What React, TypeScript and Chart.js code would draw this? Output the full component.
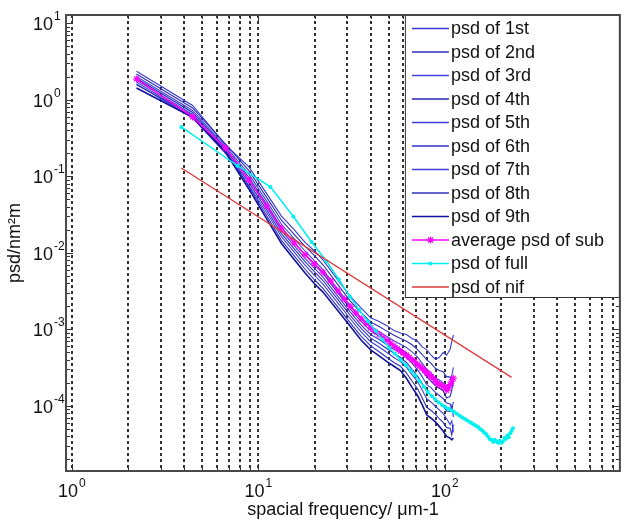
import React, { useEffect, useRef } from "react";
import { Chart, registerables } from "chart.js";

Chart.register(...registerables);

// ---------- data ----------
const subFreq = [2.22, 4.44, 6.67, 8.89, 11.1, 13.3, 15.6, 17.8, 20.0, 22.2, 26.7, 31.1, 35.6, 40.0, 44.4, 48.9, 53.3, 57.8, 62.2, 66.7, 71.1, 75.6, 80.0, 84.4, 88.9, 93.3, 97.8, 102.2, 106.7, 108.9, 111.1];

const psd1 = [2.37, 0.848, 0.259, 0.133, 0.0592, 0.0303, 0.02, 0.0137, 0.0106, 0.0081, 0.00442, 0.0027, 0.0019, 0.00142, 0.00127, 0.00112, 0.00097, 0.0009, 0.00086, 0.00076, 0.00071, 0.00059, 0.00054, 0.00046, 0.00041, 0.00043, 0.0005, 0.00046, 0.00055, 0.0007, 0.00085];
const psd2 = [2.19, 0.785, 0.265, 0.119, 0.0528, 0.0268, 0.0174, 0.0122, 0.0092, 0.007, 0.00385, 0.00235, 0.00165, 0.00125, 0.00109, 0.00095, 0.00084, 0.00076, 0.0007, 0.00063, 0.00055, 0.00047, 0.0004, 0.00036, 0.00031, 0.00029, 0.00028, 0.00024, 0.00024, 0.0002, 0.00018];
const psd3 = [2.03, 0.728, 0.247, 0.107, 0.0472, 0.0237, 0.0153, 0.0106, 0.0079, 0.00605, 0.00335, 0.00206, 0.00143, 0.00108, 0.00093, 0.00081, 0.00071, 0.00064, 0.00058, 0.00051, 0.00044, 0.00036, 0.0003, 0.00027, 0.00023, 0.00022, 0.0002, 0.00018, 0.0002, 0.00025, 0.00032];
const psd4 = [1.92, 0.686, 0.234, 0.0977, 0.043, 0.0214, 0.0137, 0.00945, 0.007, 0.0054, 0.003, 0.00185, 0.00127, 0.00096, 0.00082, 0.00071, 0.00062, 0.00056, 0.00049, 0.00042, 0.00036, 0.00029, 0.00024, 0.00021, 0.000185, 0.00017, 0.000158, 0.000127, 0.000133, 0.00016, 0.00025];
const psd5 = [1.81, 0.647, 0.222, 0.09, 0.0396, 0.0196, 0.0124, 0.00852, 0.0063, 0.00484, 0.00271, 0.00168, 0.00114, 0.00086, 0.00074, 0.00063, 0.00055, 0.00049, 0.00043, 0.00036, 0.0003, 0.00024, 0.00019, 0.000172, 0.00015, 0.000137, 0.000125, 0.000109, 0.000106, 0.00009, 0.000113];
const psd6 = [1.71, 0.613, 0.211, 0.083, 0.0365, 0.0179, 0.0112, 0.00769, 0.00565, 0.00436, 0.00245, 0.00152, 0.00103, 0.00077, 0.00066, 0.00056, 0.00049, 0.00043, 0.00037, 0.0003, 0.00025, 0.000196, 0.000154, 0.000139, 0.000122, 0.00011, 0.0001, 0.000086, 0.000084, 0.0001, 0.000072];
const psd7 = [1.62, 0.58, 0.201, 0.0766, 0.0335, 0.0163, 0.0102, 0.00693, 0.00508, 0.00392, 0.00221, 0.00138, 0.00092, 0.00069, 0.00059, 0.0005, 0.00043, 0.00038, 0.00032, 0.000255, 0.00021, 0.000161, 0.000124, 0.000112, 0.000099, 0.000089, 0.00008, 0.000068, 0.000057, 0.000064, 0.000045];
const psd8 = [1.58, 0.625, 0.215, 0.0738, 0.0304, 0.0146, 0.00906, 0.00612, 0.00446, 0.00345, 0.00196, 0.00122, 0.00081, 0.00061, 0.00051, 0.00043, 0.00037, 0.00033, 0.00027, 0.00021, 0.00017, 0.000127, 0.000096, 0.000087, 0.000078, 0.000068, 0.000061, 0.000052, 0.000051, 0.000042, 0.000057];
const psd9 = [1.43, 0.595, 0.206, 0.0686, 0.0277, 0.0133, 0.00814, 0.00546, 0.00396, 0.00308, 0.00176, 0.0011, 0.00072, 0.00054, 0.00045, 0.00038, 0.00033, 0.00029, 0.00023, 0.000175, 0.000139, 0.000103, 0.000076, 0.000069, 0.000062, 0.000054, 0.000047, 0.00004, 0.000038, 0.000036, 0.000038];

const avgFreq = [2.22, 4.44, 6.67, 8.89, 11.1, 13.3, 15.6, 17.8, 20.0, 22.2, 24.4, 26.7, 28.9, 31.1, 33.3, 35.6, 37.8, 40.0, 42.2, 44.4, 46.7, 48.9, 51.1, 53.3, 55.6, 57.8, 60.0, 62.2, 64.4, 66.7, 68.9, 71.1, 73.3, 75.6, 77.8, 80.0, 82.2, 84.4, 86.7, 88.9, 91.1, 93.3, 95.6, 97.8, 100.0, 102.2, 104.4, 106.7, 108.9, 111.1];
const avgPsd = [1.88, 0.6, 0.236, 0.09, 0.041, 0.021, 0.0135, 0.0095, 0.0072, 0.0056, 0.0043, 0.0032, 0.0025, 0.002, 0.00165, 0.00138, 0.0012, 0.00105, 0.00094, 0.00086, 0.00078, 0.00072, 0.00066, 0.00061, 0.00056, 0.00052, 0.00049, 0.00046, 0.00043, 0.0004, 0.00038, 0.00035, 0.00033, 0.00031, 0.00029, 0.00027, 0.00026, 0.00024, 0.00023, 0.00021, 0.0002, 0.00019, 0.000185, 0.00018, 0.000175, 0.00016, 0.00017, 0.00019, 0.00021, 0.00023];

const fullFreq = [3.86, 7.72, 11.6, 15.4, 19.3, 23.2, 27.0, 30.9, 34.7, 38.6, 42.5, 46.3, 50.2, 54.0, 57.9, 61.8, 65.6, 69.5, 73.3, 77.2, 81.1, 84.9, 88.8, 92.6, 96.5, 100.4, 104.2, 108.1, 111.9, 115.8, 119.7, 123.5, 127.4, 131.2, 135.1, 139.0, 142.8, 146.7, 150.5, 154.4, 158.3, 162.1, 166.0, 169.8, 173.7, 177.6, 181.4, 185.3, 189.1, 193.0, 196.9, 200.7, 204.6, 208.4, 212.3, 216.2, 220.0, 223.9, 227.7, 231.6];
const fullPsd = [0.444, 0.138, 0.073, 0.03, 0.0139, 0.0078, 0.0045, 0.0027, 0.0018, 0.00128, 0.00096, 0.00074, 0.00058, 0.00048, 0.0004, 0.00034, 0.00029, 0.00025, 0.00021, 0.000178, 0.000152, 0.000135, 0.000122, 0.000111, 0.000103, 0.000097, 0.000092, 0.000088, 0.000084, 0.000079, 0.000075, 0.000071, 0.000068, 0.000065, 0.000062, 0.00006, 0.000057, 0.000055, 0.000053, 0.00005, 0.000048, 0.000045, 0.000043, 0.00004, 0.000037, 0.000036, 0.000034, 0.000036, 0.000034, 0.000033, 0.000035, 0.000033, 0.000034, 0.000038, 0.000037, 0.000041, 0.000039, 0.000044, 0.000047, 0.000051];

const nifFreq = [3.86, 228];
const nifPsd = [0.129, 0.000236];

const seriesLabels = ["psd of 1st", "psd of 2nd", "psd of 3rd", "psd of 4th", "psd of 5th", "psd of 6th", "psd of 7th", "psd of 8th", "psd of 9th", "average psd of sub", "psd of full", "psd of nif"];

const xTickExponents = [0, 1, 2];
const yTickExponents = [1, 0, -1, -2, -3, -4];
const xLabel = "spacial frequency/ \u03BCm-1";
const yLabel = "psd/nm\u00B2m";

// ---------- styles ----------
const FONT = '"Liberation Sans", Arial, Helvetica, sans-serif';
const blueColors = ["#3a3ad2", "#2e2ec4", "#4444d8", "#2424b8", "#3c3cd6", "#3232c8", "#4040dc", "#3030c2", "#12129e"];
const X_MIN = 0.93, X_MAX = 868, Y_MIN = 1.41e-5, Y_MAX = 12.9;

function decadeValues(lo: number, hi: number) {
  const out: number[] = [];
  for (let e = Math.floor(Math.log10(lo)); e <= Math.ceil(Math.log10(hi)); e++) {
    for (let m = 1; m <= 9; m++) {
      const v = m * Math.pow(10, e);
      if (v >= lo && v <= hi) out.push(v);
    }
  }
  return out;
}

function drawStar(ctx: CanvasRenderingContext2D, x: number, y: number, r: number) {
  ctx.beginPath();
  ctx.moveTo(x - r, y); ctx.lineTo(x + r, y);
  ctx.moveTo(x, y - r); ctx.lineTo(x, y + r);
  const d = r * 0.707;
  ctx.moveTo(x - d, y - d); ctx.lineTo(x + d, y + d);
  ctx.moveTo(x - d, y + d); ctx.lineTo(x + d, y - d);
  ctx.stroke();
}

const framePlugin = {
  id: "matlabFrame",
  afterDatasetsDraw(chart: any) {
    const { ctx, chartArea: a, scales } = chart;
    const xs = scales.x, ys = scales.y;
    ctx.save();
    ctx.strokeStyle = "#333";
    ctx.lineWidth = 1;
    ctx.setLineDash([]);
    for (const v of decadeValues(Y_MIN, Y_MAX)) {
      const py = Math.round(ys.getPixelForValue(v)) + 0.5;
      const major = Math.abs(Math.log10(v) - Math.round(Math.log10(v))) < 1e-9;
      const len = major ? 7 : 4;
      ctx.beginPath();
      ctx.moveTo(a.left, py); ctx.lineTo(a.left + len, py);
      ctx.moveTo(a.right, py); ctx.lineTo(a.right - len, py);
      ctx.stroke();
    }
    for (const v of decadeValues(X_MIN, X_MAX)) {
      const px = Math.round(xs.getPixelForValue(v)) + 0.5;
      const major = Math.abs(Math.log10(v) - Math.round(Math.log10(v))) < 1e-9;
      const len = major ? 7 : 4;
      ctx.beginPath();
      ctx.moveTo(px, a.bottom); ctx.lineTo(px, a.bottom - len);
      ctx.moveTo(px, a.top); ctx.lineTo(px, a.top + len);
      ctx.stroke();
    }

    // legend
    const lw = 215, lh = 283;
    const lx = a.right - lw, ly = a.top;
    ctx.fillStyle = "#fff";
    ctx.fillRect(lx, ly, lw, lh);
    ctx.strokeStyle = "#333";
    ctx.lineWidth = 1;
    ctx.strokeRect(lx + 0.5, ly + 0.5, lw - 1, lh - 1);
    ctx.font = "18px " + FONT;
    ctx.textBaseline = "middle";
    ctx.textAlign = "left";
    chart.data.datasets.forEach((ds: any, i: number) => {
      const cy = ly + 13.5 + i * 23.5;
      ctx.strokeStyle = ds.borderColor;
      ctx.lineWidth = 1.5;
      ctx.beginPath();
      ctx.moveTo(lx + 7, cy); ctx.lineTo(lx + 44, cy);
      ctx.stroke();
      if (ds.pointStyle === "star") {
        ctx.lineWidth = 1.2;
        drawStar(ctx, lx + 25.5, cy, 3.5);
      } else if (ds.pointRadius > 0) {
        ctx.fillStyle = ds.backgroundColor;
        ctx.beginPath();
        ctx.arc(lx + 25.5, cy, 2, 0, Math.PI * 2);
        ctx.fill();
      }
      ctx.fillStyle = "#111";
      ctx.fillText(ds.label, lx + 46, cy + 1);
    });

    // axes box
    ctx.strokeStyle = "#4a4a4a";
    ctx.lineWidth = 2;
    ctx.strokeRect(a.left, a.top, a.right - a.left, a.bottom - a.top);

    // tick labels
    ctx.fillStyle = "#111";
    ctx.textBaseline = "alphabetic";
    ctx.textAlign = "left";
    for (const e of xTickExponents) {
      const px = xs.getPixelForValue(Math.pow(10, e));
      ctx.font = "18px " + FONT;
      const w10 = ctx.measureText("10").width;
      ctx.font = "12px " + FONT;
      const ex = String(e);
      const we = ctx.measureText(ex).width;
      const start = px - (w10 + we + 1) / 2;
      ctx.font = "18px " + FONT;
      ctx.fillText("10", start, a.bottom + 26);
      ctx.font = "12px " + FONT;
      ctx.fillText(ex, start + w10 + 1, a.bottom + 16);
    }
    for (const e of yTickExponents) {
      const py = ys.getPixelForValue(Math.pow(10, e));
      ctx.font = "18px " + FONT;
      const w10 = ctx.measureText("10").width;
      ctx.fillText("10", 33, py + 7);
      ctx.font = "12px " + FONT;
      ctx.fillText(String(e), 33 + w10 + 1, py - 3);
    }

    // axis titles
    ctx.font = "18px " + FONT;
    ctx.textAlign = "center";
    ctx.fillText(xLabel, (a.left + a.right) / 2, a.bottom + 44);
    ctx.save();
    ctx.translate(20, (a.top + a.bottom) / 2);
    ctx.rotate(-Math.PI / 2);
    ctx.fillText(yLabel, 0, 0);
    ctx.restore();
    ctx.restore();
  },
};

function pts(xs: number[], ys: number[]) {
  return xs.map((x, i) => ({ x, y: ys[i] }));
}

export default function App() {
  const ref = useRef<HTMLCanvasElement>(null);
  useEffect(() => {
    const blue = [psd1, psd2, psd3, psd4, psd5, psd6, psd7, psd8, psd9];
    const datasets: any[] = blue.map((arr, i) => ({
      label: seriesLabels[i],
      data: pts(subFreq, arr),
      borderColor: blueColors[i],
      backgroundColor: blueColors[i],
      borderWidth: i === 8 ? 1.6 : 1.1,
      pointRadius: 0,
      order: 12 - i,
    }));
    datasets.push({
      label: seriesLabels[9],
      data: pts(avgFreq, avgPsd),
      borderColor: "#ff00ff",
      backgroundColor: "#ff00ff",
      borderWidth: 1.5,
      pointStyle: "star",
      pointRadius: 3.5,
      pointBorderWidth: 1.1,
      order: 3,
    });
    datasets.push({
      label: seriesLabels[10],
      data: pts(fullFreq, fullPsd),
      borderColor: "#00f0f0",
      backgroundColor: "#00f0f0",
      borderWidth: 1.5,
      pointStyle: "circle",
      pointRadius: 2,
      pointBorderWidth: 0,
      order: 2,
    });
    datasets.push({
      label: seriesLabels[11],
      data: pts(nifFreq, nifPsd),
      borderColor: "#e03a3a",
      backgroundColor: "#e03a3a",
      borderWidth: 1.3,
      pointRadius: 0,
      order: 1,
    });

    const xGrid = decadeValues(X_MIN, X_MAX);
    const chart = new Chart(ref.current as HTMLCanvasElement, {
      type: "line",
      data: { datasets },
      plugins: [framePlugin],
      options: {
        responsive: false,
        animation: false,
        events: [],
        layout: { padding: { top: 15, right: 2, left: 0, bottom: 0 } },
        elements: { line: { tension: 0 } },
        plugins: { legend: { display: false }, tooltip: { enabled: false }, title: { display: false } },
        scales: {
          x: {
            type: "logarithmic",
            min: X_MIN,
            max: X_MAX,
            afterBuildTicks: (s: any) => { s.ticks = xGrid.map((v) => ({ value: v })); },
            afterFit: (s: any) => { s.height = 50; },
            ticks: { display: false, autoSkip: false },
            grid: { display: true, drawTicks: false, color: "#333", lineWidth: 2 },
            border: { display: false, dash: [3, 3] },
          },
          y: {
            type: "logarithmic",
            min: Y_MIN,
            max: Y_MAX,
            afterFit: (s: any) => { s.width = 66; },
            ticks: { display: false },
            grid: { display: false },
            border: { display: false },
          },
        },
      } as any,
    });
    return () => chart.destroy();
  }, []);
  return (
    <div style={{ position: "fixed", left: 0, top: 0, width: 625, height: 521, background: "#fff" }}>
      <canvas ref={ref} width={625} height={521} style={{ width: 625, height: 521, display: "block" }} />
    </div>
  );
}
